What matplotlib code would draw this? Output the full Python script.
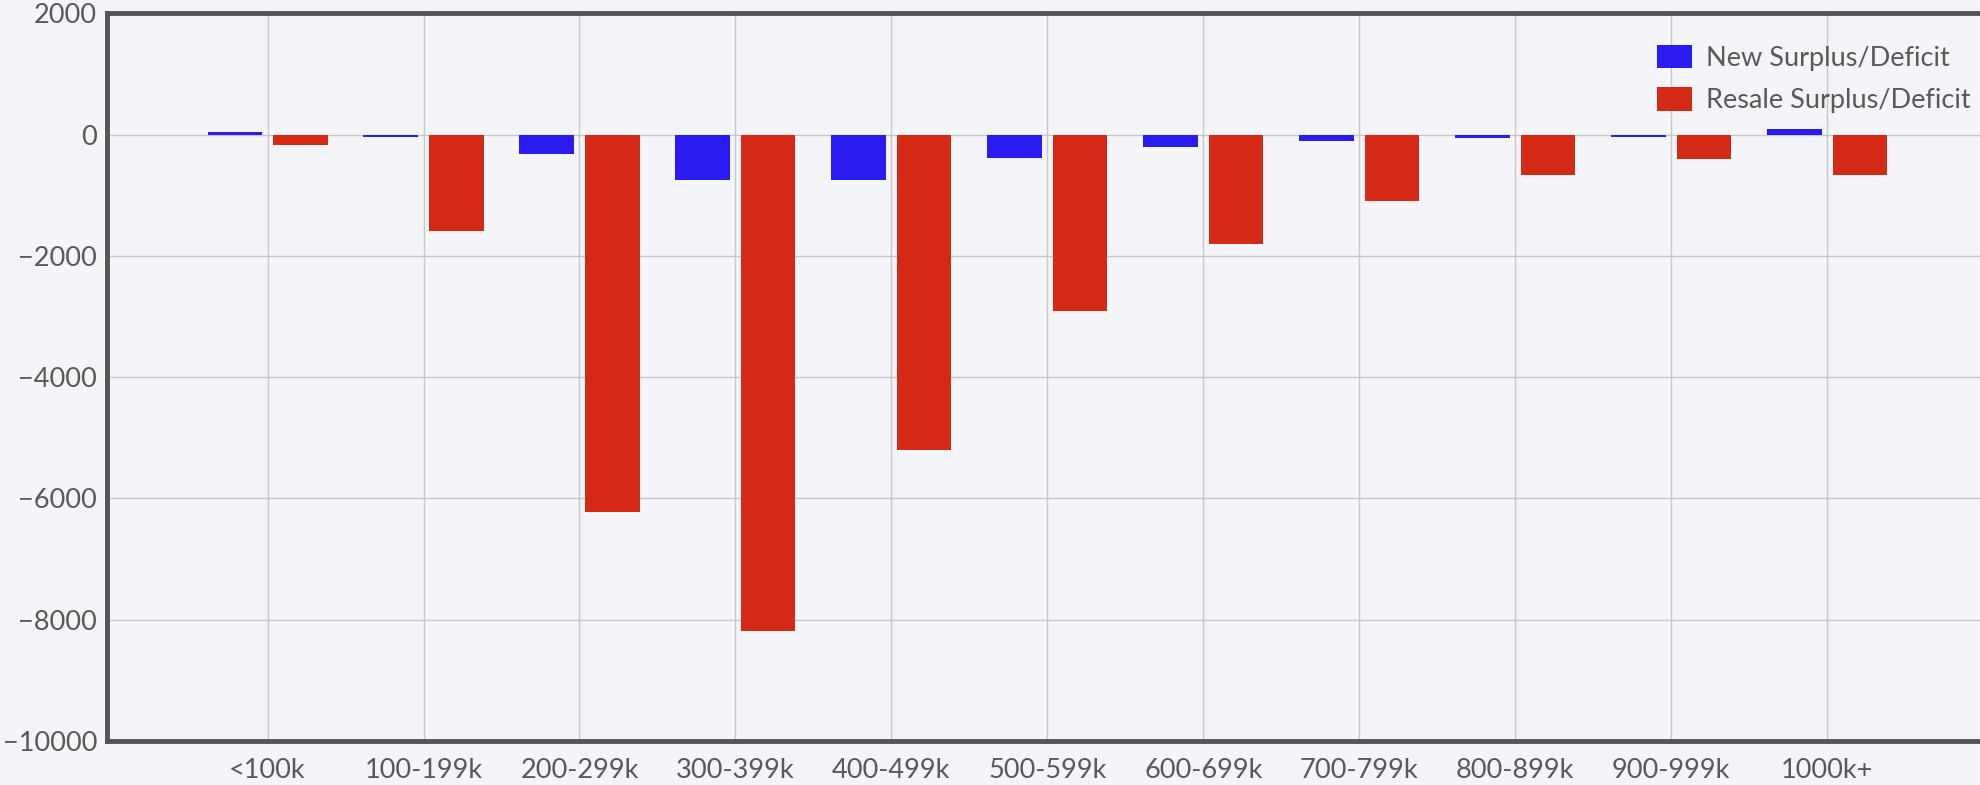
import numpy as np
import matplotlib
matplotlib.use("Agg")
import matplotlib.pyplot as plt

# ── Data ──────────────────────────────────────────────────────
CATEGORIES = ["<100k", "100-199k", "200-299k", "300-399k", "400-499k",
              "500-599k", "600-699k", "700-799k", "800-899k", "900-999k",
              "1000k+"]
NEW_SURPLUS = [40, -40, -315, -755, -755, -390, -210, -110, -50, -40, 90]
RESALE_SURPLUS = [-165, -1590, -6225, -8180, -5200, -2910, -1800, -1090,
                  -670, -400, -670]
Y_TICKS = [2000, 0, -2000, -4000, -6000, -8000, -10000]

BLUE = "#2a1cf0"
RED = "#d42a15"
BG = "#f4f5f8"
TEXT = "#595959"

plt.rcParams["font.family"] = ["Lato", "DejaVu Sans"]

fig = plt.figure(figsize=(19.8, 7.85), dpi=100, facecolor=BG)
ax = fig.add_axes([0.054, 0.056, 0.946, 0.927])
ax.set_facecolor(BG)

x = np.arange(1, len(CATEGORIES) + 1)
bw = 0.35
ax.bar(x - 0.21, NEW_SURPLUS, width=bw, color=BLUE,
       label="New Surplus/Deficit", zorder=3)
ax.bar(x + 0.21, RESALE_SURPLUS, width=bw, color=RED,
       label="Resale Surplus/Deficit", zorder=3)

ax.set_xlim(-0.03, 11.98)
ax.set_ylim(-10000, 2000)
ax.set_yticks(Y_TICKS)
ax.set_xticks(x)
ax.set_xticklabels(CATEGORIES)

ax.grid(True, color="#c8c8c8", linewidth=1.0, zorder=0)
ax.tick_params(length=0, labelsize=19.5, labelcolor=TEXT)
ax.tick_params(axis="x", pad=12)
ax.tick_params(axis="y", pad=7)

for side in ["left", "bottom", "top"]:
    ax.spines[side].set_color("#555555")
    ax.spines[side].set_linewidth(3.5)
ax.spines["right"].set_visible(False)

leg = ax.legend(loc="upper right", bbox_to_anchor=(1.008, 0.99),
                frameon=False, fontsize=19.5, handlelength=1.3,
                handleheight=0.95, handletextpad=0.5, labelspacing=0.6)
for t in leg.get_texts():
    t.set_color(TEXT)

fig.savefig("out.png", dpi=100, facecolor=BG)
